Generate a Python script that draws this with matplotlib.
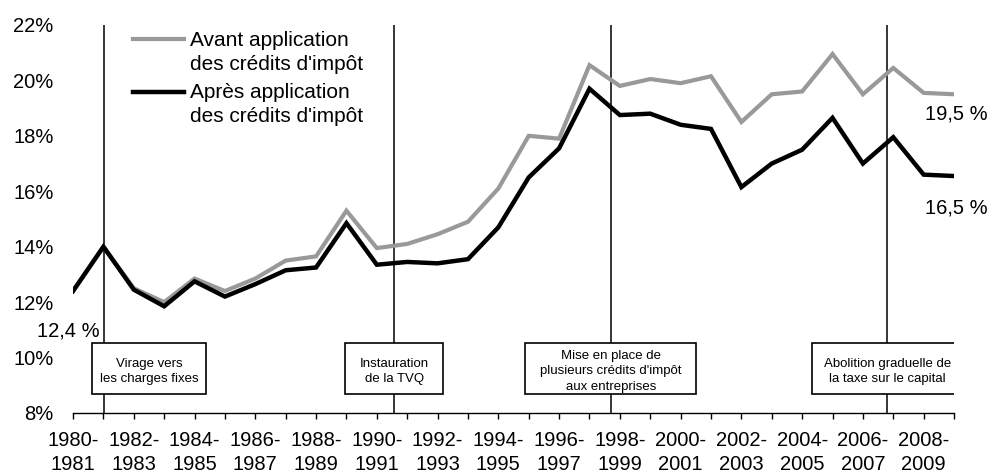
import matplotlib
matplotlib.use('Agg')
import matplotlib.pyplot as plt
from matplotlib.patches import Rectangle

plt.rcParams['font.family'] = ['Liberation Sans', 'DejaVu Sans']

periods = ['1980-1981', '1981-1982', '1982-1983', '1983-1984', '1984-1985',
           '1985-1986', '1986-1987', '1987-1988', '1988-1989', '1989-1990',
           '1990-1991', '1991-1992', '1992-1993', '1993-1994', '1994-1995',
           '1995-1996', '1996-1997', '1997-1998', '1998-1999', '1999-2000',
           '2000-2001', '2001-2002', '2002-2003', '2003-2004', '2004-2005',
           '2005-2006', '2006-2007', '2007-2008', '2008-2009', '2009-2010']

# taux avant / apres credits d'impot (%)
avant = [12.4, 14.0, 12.5, 12.0, 12.85, 12.4, 12.85, 13.5, 13.65, 15.3,
         13.95, 14.1, 14.45, 14.9, 16.1, 18.0, 17.9, 20.55, 19.8, 20.05,
         19.9, 20.15, 18.5, 19.5, 19.6, 20.95, 19.5, 20.45, 19.55, 19.5]
apres = [12.4, 14.0, 12.45, 11.85, 12.75, 12.2, 12.65, 13.15, 13.25, 14.85,
         13.35, 13.45, 13.4, 13.55, 14.7, 16.5, 17.55, 19.7, 18.75, 18.8,
         18.4, 18.25, 16.15, 17.0, 17.5, 18.65, 17.0, 17.95, 16.6, 16.55]

series_labels = ["Avant application\ndes crédits d'impôt",
                 "Après application\ndes crédits d'impôt"]

event_x = [1.03, 10.57, 17.7, 26.8]
event_labels = ['Virage vers\nles charges fixes',
                'Instauration\nde la TVQ',
                "Mise en place de\nplusieurs crédits d'impôt\naux entreprises",
                'Abolition graduelle de\nla taxe sur le capital']

gray = '#999999'
x = list(range(len(periods)))

fig = plt.figure(figsize=(9.91, 4.74), dpi=100)
ax = fig.add_axes([0.0737, 0.1287, 0.889, 0.8186])

ax.plot(x, avant, color=gray, lw=3.0, solid_joinstyle='miter', zorder=3)
ax.plot(x, apres, color='black', lw=3.2, solid_joinstyle='miter', zorder=4)

# evenements: lignes verticales + boites
box_centers = [2.5, 10.57, 17.7, 26.8]
box_widths = [3.75, 3.23, 5.63, 4.97]
box_bottom, box_top = 8.69, 10.53
for ex, lab, bc, bw in zip(event_x, event_labels, box_centers, box_widths):
    ax.plot([ex, ex], [8, 22], color='black', lw=1.1, zorder=2)
    ax.add_patch(Rectangle((bc - bw / 2, box_bottom), bw, box_top - box_bottom,
                           facecolor='white', edgecolor='black', lw=1.2, zorder=5))
    ax.text(bc, 9.5, lab, ha='center', va='center',
            fontsize=9.5, linespacing=1.4, zorder=6)

# legende
ax.plot([1.97, 3.65], [21.5, 21.5], color=gray, lw=3.0, zorder=3)
ax.plot([1.97, 3.65], [19.58, 19.58], color='black', lw=3.2, zorder=3)
ax.text(3.85, 21.77, series_labels[0], ha='left', va='top', fontsize=15, linespacing=1.3)
ax.text(3.85, 19.9, series_labels[1], ha='left', va='top', fontsize=15, linespacing=1.3)

# etiquettes de valeurs
ax.text(0.86, 10.96, '12,4 %', ha='right', va='center', fontsize=14.5)
ax.text(29.07, 18.79, '19,5 %', ha='center', va='center', fontsize=14.5)
ax.text(29.07, 15.40, '16,5 %', ha='center', va='center', fontsize=14.5)

ax.set_xlim(0, len(periods) - 1)
ax.set_ylim(8, 22)
ax.set_xticks(x)
ax.set_xticklabels([p.replace('-', '-\n') if i % 2 == 0 else '' for i, p in enumerate(periods)],
                   fontsize=14.5, linespacing=1.3)
ax.set_yticks(range(8, 23, 2))
ax.set_yticklabels([f'{v}%' for v in range(8, 23, 2)], fontsize=14.5)
ax.tick_params(axis='x', direction='out', length=4.3, width=1, pad=9)
ax.tick_params(axis='y', length=0, pad=14)
for s in ['top', 'right', 'left']:
    ax.spines[s].set_visible(False)
ax.spines['bottom'].set_linewidth(1)
ax.spines['bottom'].set_zorder(1)

fig.savefig('out.png', dpi=100)
